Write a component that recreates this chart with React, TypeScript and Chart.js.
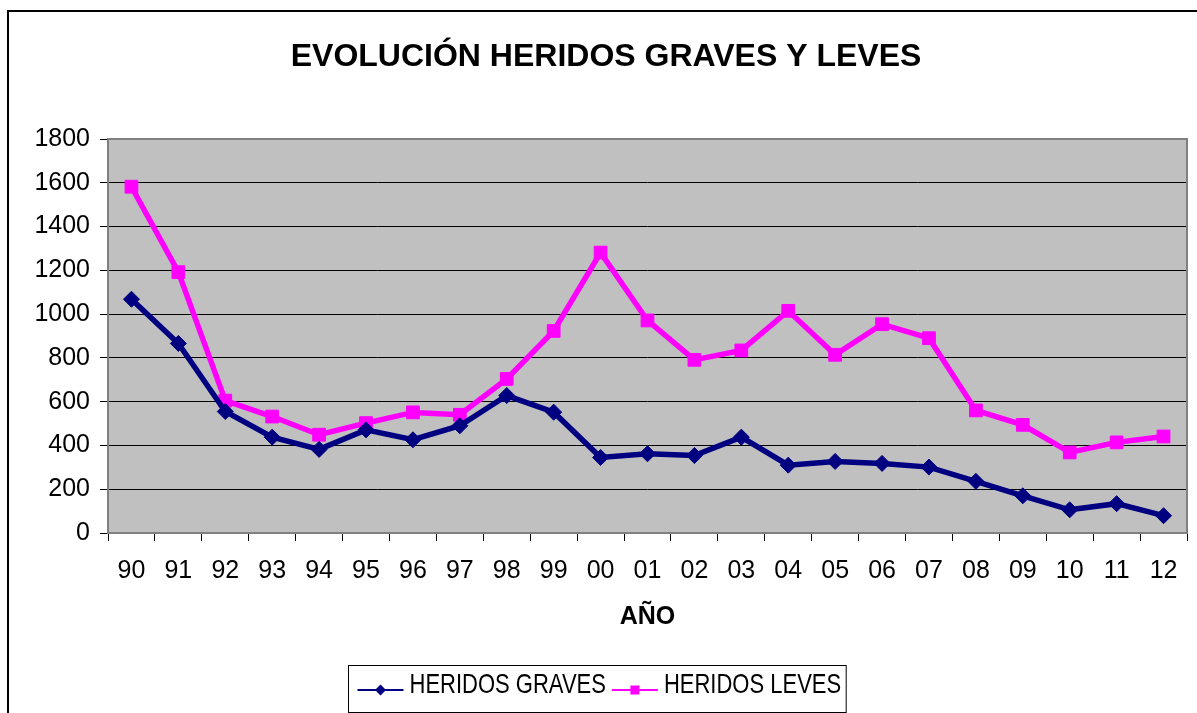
import React, { useEffect, useRef } from 'react';
import { Chart, registerables } from 'chart.js';

Chart.register(...registerables);

const years = ['90', '91', '92', '93', '94', '95', '96', '97', '98', '99', '00', '01', '02', '03', '04', '05', '06', '07', '08', '09', '10', '11', '12'];
const heridosGraves = [1068, 866, 555, 438, 382, 471, 426, 490, 628, 552, 345, 362, 354, 438, 310, 327, 318, 301, 236, 170, 106, 134, 79];
const heridosLeves = [1582, 1192, 605, 532, 449, 502, 551, 540, 704, 923, 1281, 971, 791, 834, 1015, 814, 954, 890, 560, 494, 368, 414, 441];
const yMin = 0;
const yMax = 1800;
const yStep = 200;

const titleText = 'EVOLUCIÓN HERIDOS GRAVES Y LEVES';
const xTitleText = 'AÑO';
const seriesNames = ['HERIDOS GRAVES', 'HERIDOS LEVES'];

const FONT = '"Liberation Sans", Arial, Helvetica, sans-serif';
const NAVY = '#000080';
const MAGENTA = '#FF00FF';
const PLOT_BG = '#C0C0C0';

const backgroundPlugin = {
  id: 'excelBackground',
  beforeDraw(chart: any) {
    const { ctx, chartArea, width, height } = chart;
    ctx.save();
    ctx.fillStyle = '#FFFFFF';
    ctx.fillRect(0, 0, width, height);
    ctx.strokeStyle = '#000000';
    ctx.lineWidth = 2;
    ctx.strokeRect(8, 11, width + 20, height + 20);
    ctx.fillStyle = PLOT_BG;
    ctx.fillRect(chartArea.left, chartArea.top, chartArea.right - chartArea.left, chartArea.bottom - chartArea.top);
    ctx.restore();
  },
  beforeDatasetsDraw(chart: any) {
    const { ctx, chartArea } = chart;
    ctx.save();
    ctx.strokeStyle = '#808080';
    ctx.lineWidth = 2;
    ctx.strokeRect(chartArea.left, chartArea.top, chartArea.right - chartArea.left, chartArea.bottom - chartArea.top);
    ctx.restore();
  },
};

function drawMarker(ctx: CanvasRenderingContext2D, style: string, x: number, y: number, color: string) {
  ctx.fillStyle = color;
  ctx.beginPath();
  if (style === 'rectRot') {
    const r = 5.5;
    ctx.moveTo(x - r, y);
    ctx.lineTo(x, y - r);
    ctx.lineTo(x + r, y);
    ctx.lineTo(x, y + r);
    ctx.closePath();
  } else {
    const h = 4.5;
    ctx.rect(x - h, y - h, 2 * h, 2 * h);
  }
  ctx.fill();
}

const legendPlugin = {
  id: 'excelLegend',
  afterDraw(chart: any) {
    const { ctx } = chart;
    const datasets = chart.data.datasets;
    ctx.save();
    ctx.font = `22px ${FONT}`;
    ctx.textBaseline = 'middle';
    ctx.textAlign = 'left';
    const sample = 46;
    const gap = 6;
    const padL = 9;
    const padR = 5;
    const widths = datasets.map((d: any) => ctx.measureText(d.label).width);
    let total = padL + padR;
    widths.forEach((w: number, i: number) => {
      total += sample + gap + w + (i < widths.length - 1 ? gap : 0);
    });
    const cx = 597;
    const left = Math.round(cx - total / 2) + 0.5;
    const top = 665.5;
    const boxH = 47;
    ctx.strokeStyle = '#000000';
    ctx.lineWidth = 1;
    ctx.strokeRect(left, top, total, boxH);
    let x = left + padL;
    const yLine = 690;
    datasets.forEach((d: any, i: number) => {
      ctx.strokeStyle = d.borderColor;
      ctx.lineWidth = 2;
      ctx.beginPath();
      ctx.moveTo(x, yLine);
      ctx.lineTo(x + sample, yLine);
      ctx.stroke();
      drawMarker(ctx, d.pointStyle, x + sample / 2, yLine, d.borderColor);
      x += sample + gap;
      ctx.fillStyle = '#000000';
      ctx.save();
      ctx.translate(x, 686);
      ctx.scale(1, 1.22);
      ctx.fillText(d.label, 0, 0);
      ctx.restore();
      x += widths[i] + gap;
    });
    ctx.restore();
  },
};

export default function App() {
  const canvasRef = useRef<HTMLCanvasElement | null>(null);

  useEffect(() => {
    const canvas = canvasRef.current;
    if (!canvas) return;
    const chart = new Chart(canvas, {
      type: 'line',
      data: {
        labels: years,
        datasets: [
          {
            label: seriesNames[0],
            data: heridosGraves,
            borderColor: NAVY,
            backgroundColor: NAVY,
            borderWidth: 5.5,
            pointStyle: 'rectRot',
            pointRadius: 8,
            pointBorderWidth: 1,
            pointBackgroundColor: NAVY,
            pointBorderColor: NAVY,
            tension: 0,
          },
          {
            label: seriesNames[1],
            data: heridosLeves,
            borderColor: MAGENTA,
            backgroundColor: MAGENTA,
            borderWidth: 5.5,
            pointStyle: 'rect',
            pointRadius: 9,
            pointBorderWidth: 1,
            pointBackgroundColor: MAGENTA,
            pointBorderColor: MAGENTA,
            tension: 0,
          },
        ],
      },
      options: {
        responsive: false,
        maintainAspectRatio: false,
        animation: false,
        layout: { padding: { left: 22, right: 7, top: 0, bottom: 80 } },
        plugins: {
          legend: { display: false },
          tooltip: { enabled: false },
          title: {
            display: true,
            text: titleText,
            color: '#000000',
            font: { family: FONT, size: 32, weight: 'bold' },
            padding: { top: 38, bottom: 62.6 },
          },
        },
        scales: {
          x: {
            offset: true,
            grid: {
              display: true,
              offset: true,
              drawOnChartArea: false,
              drawTicks: true,
              tickLength: 8,
              color: '#000000',
              lineWidth: 1,
            },
            border: { display: false },
            ticks: {
              color: '#000000',
              font: { family: FONT, size: 25 },
              padding: 15,
              maxRotation: 0,
              autoSkip: false,
            },
            title: {
              display: true,
              text: xTitleText,
              color: '#000000',
              font: { family: FONT, size: 25, weight: 'bold' },
              padding: { top: 0, bottom: 1 },
            },
            afterFit: (scale: any) => {
              scale.height = 100;
            },
          },
          y: {
            min: yMin,
            max: yMax,
            grid: {
              color: '#000000',
              lineWidth: 1,
              tickLength: 8,
              drawTicks: true,
            },
            border: { display: false },
            ticks: {
              stepSize: yStep,
              color: '#000000',
              font: { family: FONT, size: 25 },
              padding: 10,
              callback: (value: any) => String(value),
            },
            afterFit: (scale: any) => {
              scale.width = 86;
            },
          },
        },
      },
      plugins: [backgroundPlugin, legendPlugin],
    });
    return () => {
      chart.destroy();
    };
  }, []);

  return (
    <div style={{ position: 'fixed', left: 0, top: 0, width: 1197, height: 713, background: '#FFFFFF' }}>
      <canvas ref={canvasRef} width={1197} height={713} style={{ display: 'block' }} />
    </div>
  );
}
